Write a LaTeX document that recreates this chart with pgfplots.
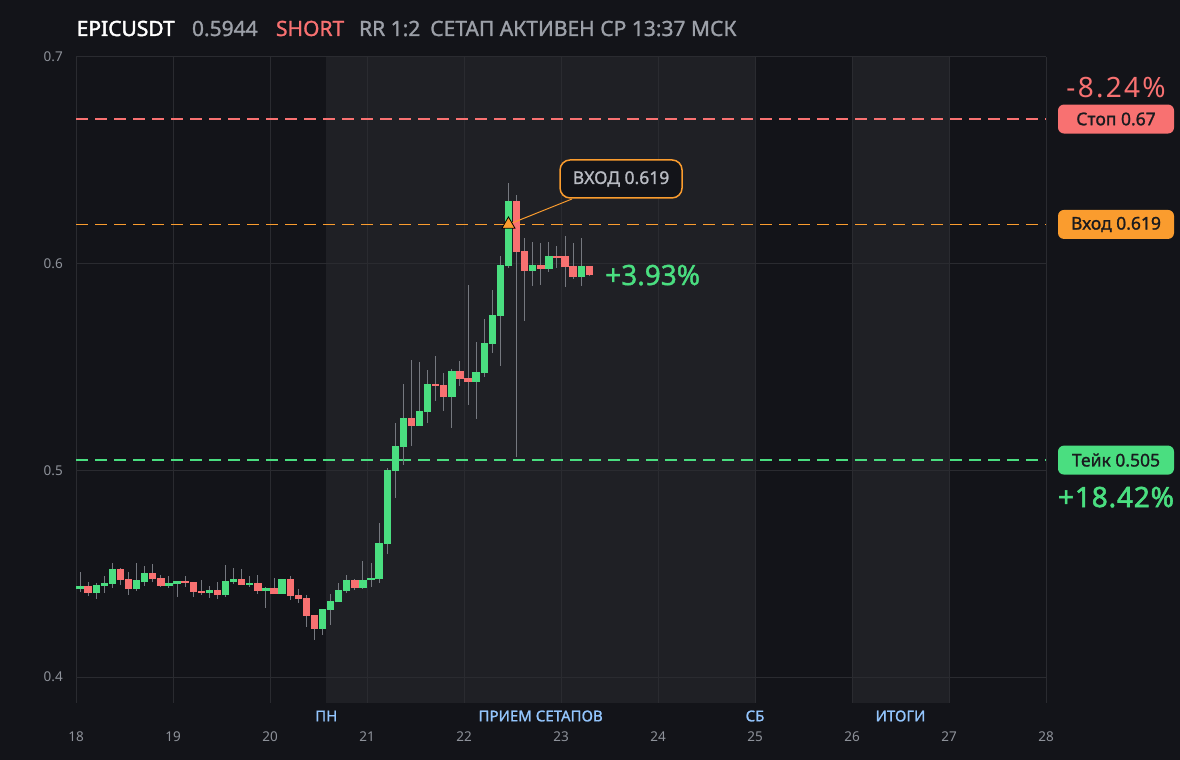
\documentclass[border=0pt]{standalone}
\usepackage{fontspec}
\setmainfont{Noto Sans}
\newfontfamily\sbf{Noto Sans}[FakeBold=1.3]
\newfontfamily\xbf{Noto Sans}[FakeBold=2]
\usepackage{pgfplots}
\pgfplotsset{compat=1.18}
\usepackage{pgfplotstable}
\definecolor{bgc}{HTML}{131419}
\definecolor{bandc}{HTML}{1F2025}
\definecolor{gridc}{HTML}{2A2B30}
\definecolor{wickc}{HTML}{75787F}
\definecolor{greenc}{HTML}{4ADE80}
\definecolor{redc}{HTML}{F87171}
\definecolor{orangec}{HTML}{FA9C2E}
\definecolor{titlegray}{HTML}{9CA0A8}
\definecolor{tickc}{HTML}{8E929A}
\definecolor{catc}{HTML}{93C5FD}
\definecolor{anntext}{HTML}{B8BBC2}
\definecolor{boxtext}{HTML}{1A1B1F}

\pgfplotstableread{
x o h l c
18.0417 0.4426 0.4509 0.4412 0.4441
18.2083 0.4407 0.4455 0.4378 0.4446
18.2917 0.4441 0.4489 0.4407 0.4455
18.3750 0.4450 0.4552 0.4431 0.4523
18.6250 0.4426 0.4552 0.4417 0.4470
18.7083 0.4460 0.4538 0.4441 0.4504
18.9583 0.4441 0.4489 0.4431 0.4455
19.0417 0.4450 0.4465 0.4388 0.4465
19.3750 0.4407 0.4441 0.4383 0.4421
19.5417 0.4397 0.4542 0.4388 0.4465
19.6250 0.4460 0.4528 0.4451 0.4475
19.7917 0.4446 0.4489 0.4436 0.4455
19.9583 0.4417 0.4436 0.4334 0.4431
20.1250 0.4402 0.4475 0.4402 0.4475
20.5417 0.4233 0.4330 0.4204 0.4330
20.6250 0.4325 0.4402 0.4252 0.4368
20.7083 0.4363 0.4455 0.4363 0.4421
20.7917 0.4417 0.4494 0.4407 0.4470
20.9583 0.4432 0.4561 0.4427 0.4470
21.0417 0.4470 0.4552 0.4437 0.4481
21.1250 0.4476 0.4746 0.4457 0.4649
21.2083 0.4645 0.5011 0.4597 0.5002
21.2917 0.4998 0.5229 0.4868 0.5118
21.3750 0.5115 0.5418 0.5028 0.5253
21.5417 0.5216 0.5525 0.5216 0.5287
21.6250 0.5284 0.5486 0.5231 0.5418
21.8750 0.5357 0.5491 0.5207 0.5481
22.1250 0.5429 0.5623 0.5250 0.5476
22.2083 0.5473 0.5732 0.5453 0.5615
22.2917 0.5613 0.5873 0.5569 0.5752
22.3750 0.5748 0.6037 0.5507 0.5994
22.4583 0.5990 0.6390 0.5981 0.6303
22.7083 0.5966 0.6106 0.5893 0.5994
22.8750 0.5976 0.6106 0.5961 0.6037
23.2083 0.5937 0.6124 0.5893 0.5989
}\greentab

\pgfplotstableread{
x o h l c
18.1250 0.4441 0.4460 0.4392 0.4407
18.4583 0.4523 0.4528 0.4446 0.4470
18.5417 0.4475 0.4509 0.4397 0.4426
18.7917 0.4504 0.4547 0.4460 0.4475
18.8750 0.4480 0.4494 0.4436 0.4441
19.1250 0.4465 0.4489 0.4436 0.4455
19.2083 0.4460 0.4460 0.4388 0.4412
19.2917 0.4417 0.4470 0.4397 0.4407
19.4583 0.4421 0.4460 0.4378 0.4397
19.7083 0.4475 0.4523 0.4446 0.4446
19.8750 0.4455 0.4494 0.4402 0.4417
20.0417 0.4431 0.4480 0.4402 0.4402
20.2083 0.4475 0.4489 0.4373 0.4392
20.2917 0.4397 0.4426 0.4359 0.4378
20.3750 0.4383 0.4397 0.4242 0.4296
20.4583 0.4300 0.4300 0.4180 0.4233
20.8750 0.4470 0.4475 0.4421 0.4431
21.4583 0.5253 0.5534 0.5120 0.5216
21.7083 0.5418 0.5553 0.5337 0.5410
21.7917 0.5413 0.5471 0.5289 0.5357
21.9583 0.5481 0.5529 0.5410 0.5444
22.0417 0.5447 0.5897 0.5318 0.5429
22.5417 0.6303 0.6332 0.5066 0.6058
22.6250 0.6061 0.6124 0.5724 0.5966
22.7917 0.5994 0.6100 0.5898 0.5976
22.9583 0.6037 0.6086 0.5981 0.6029
23.0417 0.6037 0.6134 0.5889 0.5986
23.1250 0.5989 0.6100 0.5927 0.5937
23.2917 0.5989 0.5989 0.5942 0.5944
}\redtab

\pgfplotsset{
  nomark/.style={only marks, mark=*, mark size=0pt, mark options={draw=none, fill=none}, forget plot},
}

\begin{document}
\begin{tikzpicture}
\fill[bgc] (0,0) rectangle (1180bp,760bp);
\begin{axis}[
  at={(76bp,57bp)}, anchor=south west,
  scale only axis, width=970bp, height=646bp,
  xmin=18, xmax=28, ymin=0.3875, ymax=0.7,
  axis line style={draw=none},
  xtick={18,19,...,28}, ytick={0.4,0.5,0.6,0.7},
  major tick length=0pt,
  /pgf/number format/assume math mode=true,
  ticklabel style={font=\fontsize{13.5bp}{15bp}\selectfont, text=tickc, inner sep=0pt},
  yticklabel style={anchor=east, xshift=-13bp, /pgf/number format/fixed, /pgf/number format/precision=1},
  xticklabel style={anchor=center, yshift=-34bp},
  clip=false,
]
% shaded session bands
\addplot[fill=bandc, draw=none, forget plot] coordinates {(20.58,0.3875)(20.58,0.7)(25,0.7)(25,0.3875)};
\addplot[fill=bandc, draw=none, forget plot] coordinates {(26,0.3875)(26,0.7)(27,0.7)(27,0.3875)};

% grid
\addplot[nomark, error bars/.cd, y dir=plus, y explicit, error mark=none,
  error bar style={line width=1bp, draw=gridc}]
  coordinates {(18,0.3875) +- (0,0.3125) (19,0.3875) +- (0,0.3125) (20,0.3875) +- (0,0.3125)
  (21,0.3875) +- (0,0.3125) (22,0.3875) +- (0,0.3125) (23,0.3875) +- (0,0.3125)
  (24,0.3875) +- (0,0.3125) (25,0.3875) +- (0,0.3125) (26,0.3875) +- (0,0.3125)
  (27,0.3875) +- (0,0.3125) (28,0.3875) +- (0,0.3125)};
\addplot[nomark, error bars/.cd, x dir=plus, x explicit, error mark=none,
  error bar style={line width=1bp, draw=gridc}]
  coordinates {(18,0.4) +- (10,0) (18,0.5) +- (10,0) (18,0.6) +- (10,0) (18,0.7) +- (10,0)};

% level lines
\addplot[redc, line width=1.8bp, dash pattern=on 12bp off 7bp, forget plot] coordinates {(18,0.67)(28,0.67)};
\addplot[orangec, line width=1.8bp, dash pattern=on 12bp off 7bp, forget plot] coordinates {(18,0.619)(28,0.619)};
\addplot[greenc, line width=1.8bp, dash pattern=on 12bp off 7bp, forget plot] coordinates {(18,0.505)(28,0.505)};

% wicks
\addplot[nomark, error bars/.cd, y dir=plus, y explicit, error mark=none,
  error bar style={line width=1bp, draw=wickc}]
  table[x=x, y=l, y error expr={\thisrow{h}-\thisrow{l}}] {\greentab};
\addplot[nomark, error bars/.cd, y dir=plus, y explicit, error mark=none,
  error bar style={line width=1bp, draw=wickc}]
  table[x=x, y=l, y error expr={\thisrow{h}-\thisrow{l}}] {\redtab};
% bodies
\addplot[nomark, error bars/.cd, y dir=plus, y explicit, error mark=none,
  error bar style={line width=7.4bp, draw=greenc}]
  table[x=x, y expr={min(\thisrow{o},\thisrow{c})}, y error expr={max(abs(\thisrow{c}-\thisrow{o}),0.0005)}] {\greentab};
\addplot[nomark, error bars/.cd, y dir=plus, y explicit, error mark=none,
  error bar style={line width=7.4bp, draw=redc}]
  table[x=x, y expr={min(\thisrow{o},\thisrow{c})}, y error expr={max(abs(\thisrow{c}-\thisrow{o}),0.0005)}] {\redtab};

% entry annotation
\draw[orangec, line width=1bp] (axis cs:22.4583,0.619) -- (axis cs:23.113,0.6313);
\node[draw=orangec, line width=1.5bp, fill=bgc, rounded corners=10bp, minimum width=122bp, minimum height=38bp, inner sep=0pt, text=anntext, font=\sbf\fontsize{17.5bp}{19bp}\selectfont] at (axis cs:23.619,0.641) {ВХОД 0.619};
\addplot[only marks, mark=triangle*, mark size=7.5bp, mark options={fill=orangec, draw=black, line width=0.8bp}, forget plot] coordinates {(22.4583,0.619)};

% current percent
\node[anchor=west, inner sep=0pt, text=greenc, font=\sbf\fontsize{28bp}{30bp}\selectfont] at (axis cs:23.454,0.5945) {+3.93\%};

% category labels
\node[text=catc, inner sep=0pt, font=\sbf\fontsize{15bp}{17bp}\selectfont] at (axis cs:20.58,0.3875) [yshift=-13bp] {ПН};
\node[text=catc, inner sep=0pt, font=\sbf\fontsize{15bp}{17bp}\selectfont] at (axis cs:22.79,0.3875) [yshift=-13bp] {ПРИЕМ СЕТАПОВ};
\node[text=catc, inner sep=0pt, font=\sbf\fontsize{15bp}{17bp}\selectfont] at (axis cs:25,0.3875) [yshift=-13bp] {СБ};
\node[text=catc, inner sep=0pt, font=\sbf\fontsize{15bp}{17bp}\selectfont] at (axis cs:26.5,0.3875) [yshift=-13bp] {ИТОГИ};

% right-side tags
\node[fill=redc, rounded corners=6bp, minimum width=116bp, minimum height=29bp, inner sep=0pt, text=boxtext, font=\sbf\fontsize{17.5bp}{19bp}\selectfont] at (axis cs:28,0.67) [xshift=70bp] {Стоп 0.67};
\node[fill=orangec, rounded corners=6bp, minimum width=116bp, minimum height=29bp, inner sep=0pt, text=boxtext, font=\sbf\fontsize{17.5bp}{19bp}\selectfont] at (axis cs:28,0.619) [xshift=70bp] {Вход 0.619};
\node[fill=greenc, rounded corners=6bp, minimum width=116bp, minimum height=29bp, inner sep=0pt, text=boxtext, font=\sbf\fontsize{17.5bp}{19bp}\selectfont] at (axis cs:28,0.505) [xshift=70bp] {Тейк 0.505};
\node[text=redc, inner sep=0pt, font=\fontsize{28bp}{30bp}\selectfont\addfontfeature{LetterSpace=8}] at (axis cs:28,0.67) [xshift=70bp, yshift=31bp] {-8.24\%};
\node[text=greenc, inner sep=0pt, font=\xbf\fontsize{28bp}{30bp}\selectfont\addfontfeature{LetterSpace=3}] at (axis cs:28,0.505) [xshift=70bp, yshift=-37bp] {+18.42\%};
\end{axis}

% title
\node[anchor=base west, inner sep=0pt, text=white, font=\xbf\fontsize{21bp}{24bp}\selectfont] at (76.5bp,724bp) {EPICUSDT};
\node[anchor=base west, inner sep=0pt, text=titlegray, font=\sbf\fontsize{21bp}{24bp}\selectfont] at (191.8bp,724bp) {0.5944};
\node[anchor=base west, inner sep=0pt, text=redc, font=\sbf\fontsize{21bp}{24bp}\selectfont] at (275.8bp,724bp) {SHORT};
\node[anchor=base west, inner sep=0pt, text=titlegray, font=\sbf\fontsize{21bp}{24bp}\selectfont] at (358.9bp,724bp) {RR 1:2};
\node[anchor=base west, inner sep=0pt, text=titlegray, font=\sbf\fontsize{21bp}{24bp}\selectfont] at (430bp,724bp) {СЕТАП АКТИВЕН СР 13:37 МСК};

\pgfresetboundingbox
\path (0,0) rectangle (1180bp,760bp);
\end{tikzpicture}
\end{document}
